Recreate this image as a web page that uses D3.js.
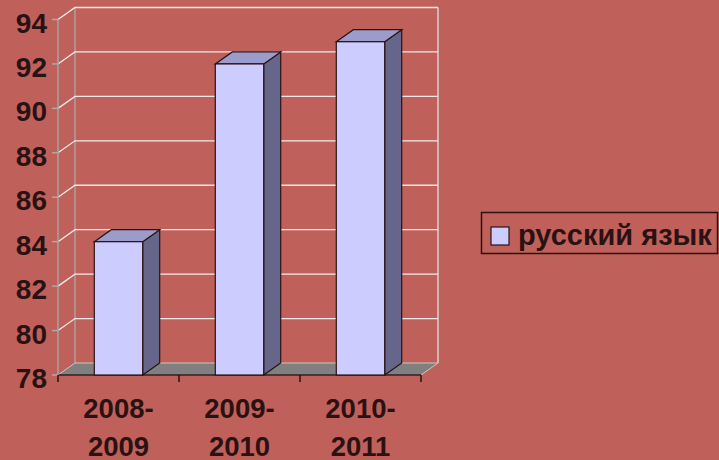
<!DOCTYPE html>
<html>
<head>
<meta charset="utf-8">
<script src="https://cdn.jsdelivr.net/npm/d3@7"></script>
<style>
  body { margin: 0; background: #c0605a; }
  svg text { font-family: "Liberation Sans", Arial, sans-serif; font-weight: bold; fill: #2a1212; }
</style>
</head>
<body>
<div id="viz"></div>
<script>
var years = [["2008-", "2009"], ["2009-", "2010"], ["2010-", "2011"]];
var scores = [84, 92, 93];
var yTicks = [78, 80, 82, 84, 86, 88, 90, 92, 94];
var seriesName = "русский язык";

var w = 719, h = 460,
    dx = 17, dy = -12,
    front_color = "#ccccff",
    top_color = "#9c9ccc",
    side_color = "#66668a",
    edge_color = "#2a1212";

var svg = d3.select("#viz").append("svg")
    .attr("width", w).attr("height", h);

var x = d3.scaleBand().domain(d3.range(scores.length)).range([58, 421]).paddingInner(0.6).paddingOuter(0.3);
var y = d3.scaleLinear().domain([78, 94]).range([375, 19.5]);

/* back wall and side wall */
svg.append("line").attr("x1", 58 + dx).attr("x2", 58 + dx)
   .attr("y1", y(94) + dy).attr("y2", y(78) + dy)
   .attr("stroke", "#a8a0a0").attr("stroke-width", 1.5);
svg.append("line").attr("x1", 421 + dx).attr("x2", 421 + dx)
   .attr("y1", y(94) + dy).attr("y2", y(78) + dy)
   .attr("stroke", "#d8d0d0").attr("stroke-width", 1.5);

svg.selectAll(".grid").data(yTicks.slice(1)).enter().append("polyline")
   .attr("class", "grid")
   .attr("points", function(d) {
     return [[58, y(d)], [58 + dx, y(d) + dy], [421 + dx, y(d) + dy]].join(" ");
   })
   .attr("fill", "none").attr("stroke", "#f2eaea").attr("stroke-width", 1.3);

/* floor */
svg.append("polygon")
   .attr("points", [[58, y(78)], [421, y(78)], [421 + dx, y(78) + dy], [58 + dx, y(78) + dy]].join(" "))
   .attr("fill", "#808080").attr("stroke", "#c8c8c8").attr("stroke-width", 1);
svg.append("line").attr("x1", 58).attr("x2", 421).attr("y1", y(78)).attr("y2", y(78))
   .attr("stroke", edge_color).attr("stroke-width", 1.5);

/* front y axis */
svg.append("line").attr("x1", 58).attr("x2", 58)
   .attr("y1", y(94)).attr("y2", y(78))
   .attr("stroke", "#a8a0a0").attr("stroke-width", 1.5);
svg.selectAll(".ytick").data(yTicks).enter().append("line")
   .attr("x1", 52).attr("x2", 58)
   .attr("y1", function(d) { return y(d); }).attr("y2", function(d) { return y(d); })
   .attr("stroke", "#b0a8a8").attr("stroke-width", 1.5);
svg.selectAll(".ylab").data(yTicks).enter().append("text")
   .attr("x", 47).attr("y", function(d) { return y(d) + 13; })
   .attr("text-anchor", "end")
   .style("font-size", "28px")
   .text(function(d) { return d; });

/* x axis ticks */
svg.selectAll(".xtick").data(d3.range(scores.length + 1)).enter().append("line")
   .attr("x1", function(d) { return 58 + d * (363 / scores.length); })
   .attr("x2", function(d) { return 58 + d * (363 / scores.length); })
   .attr("y1", y(78)).attr("y2", y(78) + 7)
   .attr("stroke", edge_color).attr("stroke-width", 1.5);

/* bars */
var bars = svg.selectAll(".bar").data(scores).enter().append("g").attr("class", "bar");
bars.append("polygon")
   .attr("points", function(d, i) {
     var x0 = x(i) + x.bandwidth(), t = y(d), b = y(78);
     return [[x0, b], [x0, t], [x0 + dx, t + dy], [x0 + dx, b + dy]].join(" ");
   })
   .attr("fill", side_color).attr("stroke", edge_color).attr("stroke-width", 1.2);
bars.append("polygon")
   .attr("points", function(d, i) {
     var x0 = x(i), x1 = x0 + x.bandwidth(), t = y(d);
     return [[x0, t], [x0 + dx, t + dy], [x1 + dx, t + dy], [x1, t]].join(" ");
   })
   .attr("fill", top_color).attr("stroke", edge_color).attr("stroke-width", 1.2);
bars.append("rect")
   .attr("x", function(d, i) { return x(i); })
   .attr("y", function(d) { return y(d); })
   .attr("width", x.bandwidth())
   .attr("height", function(d) { return y(78) - y(d); })
   .attr("fill", front_color).attr("stroke", edge_color).attr("stroke-width", 1.2);

/* x labels */
var xl = svg.selectAll(".xlab").data(years).enter().append("text")
   .attr("text-anchor", "middle")
   .style("font-size", "27.5px");
xl.append("tspan")
   .attr("x", function(d, i) { return x(i) + x.bandwidth() / 2; })
   .attr("y", 418).text(function(d) { return d[0]; });
xl.append("tspan")
   .attr("x", function(d, i) { return x(i) + x.bandwidth() / 2; })
   .attr("y", 455.5).text(function(d) { return d[1]; });

/* legend */
var lg = svg.append("g");
lg.append("rect").attr("x", 481.5).attr("y", 212.5).attr("width", 236).attr("height", 41)
   .attr("fill", "none").attr("stroke", edge_color).attr("stroke-width", 1.5);
lg.append("rect").attr("x", 491).attr("y", 227).attr("width", 18).attr("height", 18)
   .attr("fill", front_color).attr("stroke", edge_color).attr("stroke-width", 1.2);
lg.append("text").attr("x", 518).attr("y", 245)
   .style("font-size", "29px").text(seriesName);
</script>
</body>
</html>
